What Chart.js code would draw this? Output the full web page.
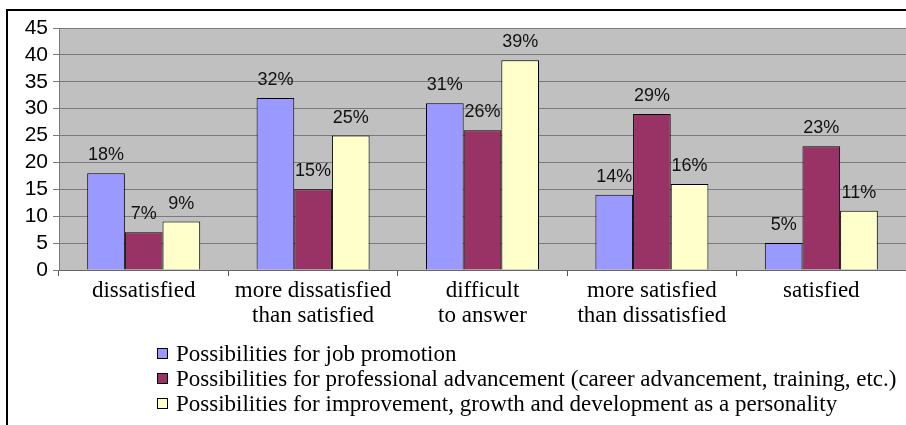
<!DOCTYPE html>
<html>
<head>
<meta charset="utf-8">
<script src="https://cdn.jsdelivr.net/npm/chart.js@4.4.1/dist/chart.umd.min.js"></script>
<style>
  html, body { margin: 0; padding: 0; background: #fff; }
  #wrap { width: 906px; height: 425px; }
</style>
</head>
<body>
<div id="wrap"><canvas id="satChart" width="906" height="425"></canvas></div>
<script>
// categories and series
var categories = ['dissatisfied', ['more dissatisfied', 'than satisfied'], ['difficult', 'to answer'], ['more satisfied', 'than dissatisfied'], 'satisfied']
var jobPromotion = [18, 32, 31, 14, 5]
var profAdvancement = [7, 15, 26, 29, 23]
var personalGrowth = [9, 25, 39, 16, 11]
var seriesNames = [
    'Possibilities for job promotion',
    'Possibilities for professional advancement (career advancement, training, etc.)',
    'Possibilities for improvement, growth and development as a personality'
]
var seriesColors = ['#9999FF', '#993366', '#FFFFCC']
var yTicks = [0, 5, 10, 15, 20, 25, 30, 35, 40, 45]

// grey plot area, frame, value labels and legend
var decor = {
    id: 'decor',
    beforeDraw: function(chart){
        var ctx = chart.ctx, a = chart.chartArea
        ctx.save()
        ctx.fillStyle = '#C0C0C0'
        ctx.fillRect(a.left, a.top, a.right - a.left, a.bottom - a.top)
        ctx.restore()
    },
    afterDatasetsDraw: function(chart){
        var ctx = chart.ctx
        ctx.save()
        ctx.font = '18px "Liberation Sans", Arial, sans-serif'
        ctx.fillStyle = '#111'
        ctx.textAlign = 'center'
        ctx.textBaseline = 'alphabetic'
        chart.data.datasets.forEach(function(ds, i){
            chart.getDatasetMeta(i).data.forEach(function(bar, j){
                ctx.fillText(ds.data[j] + '%', bar.x, bar.y - 13)
            })
        })
        ctx.restore()
    },
    afterDraw: function(chart){
        var ctx = chart.ctx
        ctx.save()
        // outer frame (top and left)
        ctx.strokeStyle = '#000'
        ctx.lineWidth = 2
        ctx.beginPath()
        ctx.moveTo(7, 425)
        ctx.lineTo(7, 10)
        ctx.lineTo(906, 10)
        ctx.stroke()
        // legend
        ctx.font = '23px "Liberation Serif", "Times New Roman", serif'
        ctx.textBaseline = 'middle'
        ctx.textAlign = 'left'
        ctx.lineWidth = 1
        for (var i = 0; i < seriesNames.length; i++){
            var y = 354 + i * 25
            ctx.fillStyle = seriesColors[i]
            ctx.fillRect(157.5, y - 5.5, 10, 10)
            ctx.strokeStyle = '#000'
            ctx.strokeRect(157.5, y - 5.5, 10, 10)
            ctx.fillStyle = '#000'
            ctx.fillText(seriesNames[i], 176, y + 1)
        }
        ctx.restore()
    }
}

var ctx = document.getElementById('satChart').getContext('2d')
var chart = new Chart(ctx, {
    type: 'bar',
    data: {
        labels: categories,
        datasets: [
            { label: seriesNames[0], data: jobPromotion, backgroundColor: seriesColors[0] },
            { label: seriesNames[1], data: profAdvancement, backgroundColor: seriesColors[1] },
            { label: seriesNames[2], data: personalGrowth, backgroundColor: seriesColors[2] }
        ].map(function(d){
            d.borderColor = '#000'
            d.borderWidth = 1
            d.barPercentage = 1
            d.categoryPercentage = 0.667
            return d
        })
    },
    options: {
        responsive: false,
        animation: false,
        events: [],
        layout: { padding: { top: 28, right: 0, bottom: 85, left: 0 } },
        plugins: { legend: { display: false }, tooltip: { enabled: false } },
        scales: {
            x: {
                afterFit: function(s){ s.height = 70 },
                grid: { drawOnChartArea: false, tickLength: 6, color: '#555', offset: true },
                border: { color: '#666', width: 1 },
                ticks: {
                    color: '#000',
                    padding: 2,
                    maxRotation: 0,
                    autoSkip: false,
                    font: { family: '"Liberation Serif", "Times New Roman", serif', size: 23, lineHeight: 1.1 }
                }
            },
            y: {
                min: 0,
                max: 45,
                afterFit: function(s){ s.width = 59 },
                afterBuildTicks: function(s){ s.ticks = yTicks.map(function(v){ return { value: v } }) },
                grid: { color: '#7a7a7a', tickLength: 6 },
                border: { color: '#7a7a7a', width: 1 },
                ticks: {
                    color: '#000',
                    padding: 5,
                    autoSkip: false,
                    font: { family: '"Liberation Sans", Arial, sans-serif', size: 21 }
                }
            }
        }
    },
    plugins: [decor]
})
</script>
</body>
</html>
